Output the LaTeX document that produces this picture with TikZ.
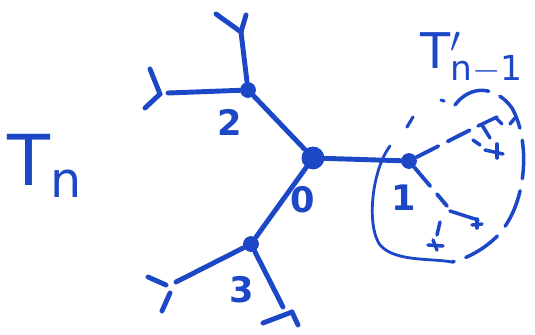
\documentclass[tikz,border=0pt]{standalone}
\usepackage{fontspec}
\setmainfont{DejaVu Sans}
\usetikzlibrary{positioning}
\definecolor{ink}{RGB}{28, 72, 200}

\begin{document}
\begin{tikzpicture}[x=0.02cm, y=-0.02cm, line cap=round, line join=round,
        br/.style={draw=ink, line width=2.8pt},
        sub/.style={draw=ink, line width=2.2pt, dash pattern=on 14pt off 6pt},
        dot/.style={circle, fill=ink, inner sep=0pt, minimum size=9pt},
        lbl/.style={text=ink, font=\bfseries\fontsize{20}{20}\selectfont}]
    \useasboundingbox (0,0) rectangle (535,335);
    % main nodes
    \node[dot, minimum size=13pt] (v0) at (313,158) {};
    \node[dot] (v1) at (409,161) {};
    \node[dot] (v2) at (248,90) {};
    \node[dot] (v3) at (251,244) {};
    \coordinate (f2a) at (241,32);
    \coordinate (f2b) at (168,93);
    \coordinate (f3a) at (176,282);
    \coordinate (f3b) at (283,307);
    % edges
    \draw[br] (v0) -- (v1);
    \draw[br] (v0) -- (v2);
    \draw[br] (v0) -- (v3);
    \draw[br] (v2) -- (f2a);
    \draw[br] (v2) -- (f2b);
    \draw[br] (v3) -- (f3a);
    \draw[br] (v3) -- (f3b);
    % leaf forks
    \draw[br] (f2a) -- (216,14);  \draw[br] (f2a) -- (246,15);
    \draw[br] (160,94) -- (150,69); \draw[br] (160,94) -- (145,108);
    \draw[br] (166,285) -- (148,277); \draw[br] (170,293) -- (162,311);
    \draw[br] (263,323) -- (292,312); \draw[br] (292,312) -- (298,325);
    % subtree T'_{n-1}
    \draw[sub] (v1) -- (478,126);
    \draw[br, line width=2pt] (478,126) -- (497,117);
    \draw[br, line width=2pt] (482,125) -- (490,138);
    \draw[br, line width=2pt] (473,140) -- (480,145);
    \draw[br, line width=2pt] (485,150) -- (503,154); \draw[br, line width=2pt] (497,144) -- (497,158);
    \draw[sub] (v1) -- (447,206);
    \draw[br, line width=2pt] (440,222) -- (437,235);
    \draw[br, line width=2pt] (450,211) -- (478,220);
    \draw[br, line width=2pt] (472,225) -- (482,224); \draw[br, line width=2pt] (477,219) -- (477,228);
    \draw[br, line width=2pt] (428,245) -- (443,246); \draw[br, line width=2pt] (433,240) -- (437,250);
    \draw[br, line width=2pt] (496,118) -- (502,124); \draw[br, line width=2pt] (515,118) -- (510,124);
    \draw[br, line width=1.8pt] (407,127) -- (413,117);
    \draw[br, line width=1.8pt] (441,100) -- (444,101);
    % enclosing loop
    \draw[ink, line width=1.6pt] (390,146) .. controls (372,170) and (366,225) .. (380,245)
        .. controls (395,262) and (430,258) .. (452,262);
    \draw[ink, line width=2pt, dash pattern=on 22pt off 7pt] (455,105) .. controls (470,85) and (495,85) .. (512,108)
        .. controls (530,140) and (528,200) .. (500,233) .. controls (490,245) and (470,258) .. (452,262);
    % labels
    \node[lbl] (l0) at (303,200) {0};
    \node[lbl] (l1) at (404,198) {1};
    \node[lbl] (l2) at (230,122) {2};
    \node[lbl] (l3) at (242,290) {3};
    \node[text=ink, font=\fontsize{40}{40}\selectfont] (tn) at (45,166) {T$_{\mathrm n}$};
    \node[text=ink, font=\fontsize{28}{28}\selectfont] (tsub) at (472,58) {T$'_{\mathrm{n-1}}$};
\end{tikzpicture}
\end{document}
